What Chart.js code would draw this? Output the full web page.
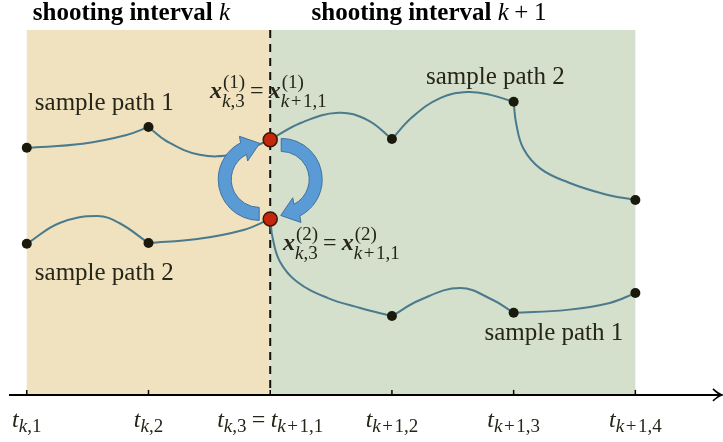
<!DOCTYPE html>
<html>
<head>
<meta charset="utf-8">
<script src="https://cdn.jsdelivr.net/npm/chart.js@4.4.0/dist/chart.umd.min.js"></script>
<style>
  html, body { margin: 0; padding: 0; background: #fff; }
  #wrap { width: 723px; height: 442px; }
</style>
</head>
<body>
<div id="wrap"><canvas id="diagram" width="723" height="442"></canvas></div>
<script>
// time grid (t_{k,1} ... t_{k+1,4}), one grid step = 10 units
const tTicks = [0, 10, 20, 30, 40, 50];
const tickLabels = ['t_{k,1}', 't_{k,2}', 't_{k,3}=t_{k+1,1}', 't_{k+1,2}', 't_{k+1,3}', 't_{k+1,4}'];
const junctionTime = 20;

// shooting interval k
const kPath1a = [[0, 67.7], [4.6, 68.8], [8.2, 71.2], [10, 73.4]];
const kPath1b = [[10, 73.4], [11.5, 69.5], [14.2, 65.8], [17, 66.0], [20, 69.9]];
const kPath2a = [[0, 41.4], [2.7, 47.1], [5.8, 49.0], [7.6, 47.1], [10, 41.6]];
const kPath2b = [[10, 41.6], [14, 42.7], [17.8, 45.2], [20, 48.2]];

// shooting interval k+1
const k1PathUa = [[20, 69.9], [22.5, 74.5], [25.6, 77.3], [28.0, 75.3], [30, 70.1]];
const k1PathUb = [[30, 70.1], [31.7, 76.2], [34.0, 81.4], [36.2, 83.0], [38.1, 82.2], [40, 80.3]];
const k1PathUc = [[40, 80.3], [40.2, 74.5], [40.8, 67.5], [42.2, 62.0], [44.5, 58.2], [47.5, 55.0], [50, 53.4]];
const k1PathLa = [[20, 48.2], [20.2, 43.0], [20.8, 36.5], [22.2, 31.0], [24.7, 26.6], [27.4, 23.8], [30, 21.6]];
const k1PathLb = [[30, 21.6], [32.3, 26.0], [35.6, 29.3], [38.3, 26.0], [40, 22.5]];
const k1PathLc = [[40, 22.5], [44.4, 23.3], [47.9, 25.2], [50, 27.9]];

const segments = [kPath1a, kPath1b, kPath2a, kPath2b, k1PathUa, k1PathUb, k1PathUc, k1PathLa, k1PathLb, k1PathLc];

const FAMILY = '"Liberation Serif", "Times New Roman", serif';
const TEXT = '#25251a';

const toXY = arr => arr.map(([x, y]) => ({ x, y }));

// grid nodes = segment end points, junction nodes drawn red
const nodeMap = new Map();
segments.forEach(seg => {
    [seg[0], seg[seg.length - 1]].forEach(p => nodeMap.set(p.join(','), p));
});
const allNodes = [...nodeMap.values()];
const junctions = allNodes.filter(p => p[0] === junctionTime);
const gridNodes = allNodes.filter(p => p[0] !== junctionTime);

// tiny math typesetter: letters italic, '*' marks bold next char, _{..} ^{..}
function parseMath(s) {
    const items = [];
    let i = 0;
    while (i < s.length) {
        const c = s[i];
        if (c === '_' || c === '^') {
            const close = s.indexOf('}', i + 2);
            const grp = s.slice(i + 2, close);
            const last = items[items.length - 1];
            if (c === '_') last.sub = grp; else last.sup = grp;
            i = close + 1;
        } else if (c === '*') {
            items.push({ ch: s[i + 1], bold: true });
            i += 2;
        } else if (c === ' ') {
            i++;
        } else {
            items.push({ ch: c });
            i++;
        }
    }
    return items;
}

function fontFor(ch, size, bold) {
    const italic = /[a-zA-Z]/.test(ch);
    return (italic ? 'italic ' : '') + (bold ? 'bold ' : '') + size + 'px ' + FAMILY;
}

function runWidth(ctx, str, size, draw, x, y) {
    let w = 0;
    for (const ch of str) {
        ctx.font = fontFor(ch, size, false);
        const pad = ch === '+' ? 1.5 : 0;
        w += pad;
        if (draw) ctx.fillText(ch, x + w, y);
        w += ctx.measureText(ch).width + pad;
    }
    return w;
}

function layoutMath(ctx, s, size, x, y, draw) {
    const items = parseMath(s);
    const script = Math.round(size * 0.78);
    let w = 0;
    for (const it of items) {
        if (it.ch === '=' || it.ch === '+') {
            const gap = size * 0.22;
            w += gap;
            ctx.font = size + 'px ' + FAMILY;
            if (draw) ctx.fillText(it.ch, x + w, y);
            w += ctx.measureText(it.ch).width + gap;
            continue;
        }
        ctx.font = fontFor(it.ch, size, it.bold);
        if (draw) ctx.fillText(it.ch, x + w, y);
        w += ctx.measureText(it.ch).width;
        let sw = 0;
        if (it.sup) sw = Math.max(sw, runWidth(ctx, it.sup, script, draw, x + w + 1, y - size * 0.42));
        if (it.sub) sw = Math.max(sw, runWidth(ctx, it.sub, script, draw, x + w, y + (it.sup ? size * 0.37 : size * 0.21)));
        w += sw;
    }
    return w;
}

function drawMath(ctx, s, size, x, y, align) {
    const w = layoutMath(ctx, s, size, 0, 0, false);
    const x0 = align === 'center' ? x - w / 2 : x;
    layoutMath(ctx, s, size, x0, y, true);
}

// circular arrow around (cx, cy); local shape is rotated for the left one
function drawCircArrow(ctx, cx, cy, halfGap, rot) {
    const ox = 11, rOut = 41, rIn = 28, rMid = (rOut + rIn) / 2;
    const a0 = -Math.PI / 2, a1 = 63 * Math.PI / 180;
    ctx.save();
    ctx.translate(cx, cy);
    ctx.rotate(rot);
    const px = ox + rMid * Math.cos(a1), py = rMid * Math.sin(a1);
    let dx = 0 - px, dy = halfGap - py;
    const len = Math.hypot(dx, dy);
    dx /= len; dy /= len;
    const nx = -dy, ny = dx;
    ctx.beginPath();
    ctx.ellipse(ox, 0, rOut, rOut, 0, a0, a1, false);
    ctx.lineTo(px - 13 * nx, py - 13 * ny);
    ctx.lineTo(px + 17 * dx, py + 17 * dy);
    ctx.lineTo(px + 13 * nx, py + 13 * ny);
    ctx.lineTo(ox + rIn * Math.cos(a1), rIn * Math.sin(a1));
    ctx.ellipse(ox, 0, rIn, rIn, 0, a1, a0, true);
    ctx.closePath();
    ctx.fillStyle = '#5b9bd5';
    ctx.fill();
    ctx.strokeStyle = '#41719c';
    ctx.lineWidth = 1;
    ctx.stroke();
    ctx.restore();
}

const diagramPlugin = {
    id: 'diagram',
    beforeDatasetsDraw(chart) {
        const { ctx, scales: { x, y } } = chart;
        const x0 = x.getPixelForValue(tTicks[0]);
        const xj = x.getPixelForValue(junctionTime);
        const x1 = x.getPixelForValue(tTicks[tTicks.length - 1]);
        const yTop = y.getPixelForValue(100);
        const yAxis = y.getPixelForValue(0);
        ctx.save();
        ctx.fillStyle = '#f0e2bf';
        ctx.fillRect(x0, yTop, xj - x0, yAxis - yTop);
        ctx.fillStyle = '#d4dfcc';
        ctx.fillRect(xj, yTop, x1 - xj, yAxis - yTop);

        // boundary between the intervals
        ctx.strokeStyle = '#111';
        ctx.lineWidth = 2;
        ctx.setLineDash([8, 6]);
        ctx.beginPath();
        ctx.moveTo(xj, yTop);
        ctx.lineTo(xj, yAxis);
        ctx.stroke();
        ctx.setLineDash([]);

        // time axis with arrow
        ctx.strokeStyle = '#000';
        ctx.lineWidth = 2;
        ctx.beginPath();
        ctx.moveTo(9, yAxis);
        ctx.lineTo(721, yAxis);
        ctx.stroke();
        ctx.lineWidth = 1.6;
        ctx.beginPath();
        ctx.moveTo(713, yAxis - 6);
        ctx.quadraticCurveTo(718, yAxis - 1, 722, yAxis);
        ctx.quadraticCurveTo(718, yAxis + 1, 713, yAxis + 6);
        ctx.stroke();
        ctx.lineWidth = 1.5;
        tTicks.forEach(t => {
            const px = x.getPixelForValue(t);
            ctx.beginPath();
            ctx.moveTo(px, yAxis);
            ctx.lineTo(px, yAxis - 5);
            ctx.stroke();
        });
        ctx.restore();
    },
    beforeDatasetDraw(chart, args) {
        if (args.index !== 0) return;
        const { ctx, scales: { x, y } } = chart;
        const cx = x.getPixelForValue(junctionTime);
        const yA = y.getPixelForValue(Math.max(...junctions.map(p => p[1])));
        const yB = y.getPixelForValue(Math.min(...junctions.map(p => p[1])));
        const cy = (yA + yB) / 2;
        const half = (yB - yA) / 2;
        drawCircArrow(ctx, cx, cy, half, 0);
        drawCircArrow(ctx, cx, cy, half, Math.PI);
    },
    afterDraw(chart) {
        const { ctx, scales: { x, y } } = chart;
        ctx.save();
        ctx.textBaseline = 'alphabetic';

        // titles
        ctx.fillStyle = '#000';
        ctx.font = 'bold 25px ' + FAMILY;
        const titleY = y.getPixelForValue(102.7);
        let tx = x.getPixelForValue(0.5);
        ctx.fillText('shooting interval ', tx, titleY);
        tx += ctx.measureText('shooting interval ').width;
        drawMath(ctx, 'k', 25, tx, titleY, 'left');
        tx = x.getPixelForValue(23.4);
        ctx.font = 'bold 25px ' + FAMILY;
        ctx.fillText('shooting interval ', tx, titleY);
        tx += ctx.measureText('shooting interval ').width;
        drawMath(ctx, 'k+1', 25, tx, titleY, 'left');

        // sample path labels
        ctx.fillStyle = TEXT;
        ctx.font = '25px ' + FAMILY;
        ctx.textAlign = 'left';
        ctx.fillText('sample path 1', x.getPixelForValue(0.66), y.getPixelForValue(78.1));
        ctx.fillText('sample path 2', x.getPixelForValue(0.66), y.getPixelForValue(31.5));
        ctx.fillText('sample path 1', x.getPixelForValue(37.6), y.getPixelForValue(15.1));
        ctx.textAlign = 'center';
        ctx.fillText('sample path 2', x.getPixelForValue(38.5), y.getPixelForValue(85.2));
        ctx.textAlign = 'left';

        // junction labels
        drawMath(ctx, '*x^{(1)}_{k,3}=*x^{(1)}_{k+1,1}', 24, x.getPixelForValue(15.05), y.getPixelForValue(81.4), 'left');
        drawMath(ctx, '*x^{(2)}_{k,3}=*x^{(2)}_{k+1,1}', 24, x.getPixelForValue(21.05), y.getPixelForValue(39.7), 'left');

        // time tick labels
        const labelY = y.getPixelForValue(-8.8);
        tTicks.forEach((t, i) => {
            drawMath(ctx, tickLabels[i], 24, x.getPixelForValue(t), labelY, 'center');
        });
        ctx.restore();
    }
};

const pathDatasets = segments.map((seg, i) => ({
    label: 'segment ' + (i + 1),
    data: toXY(seg),
    showLine: true,
    borderColor: '#4a7a8c',
    borderWidth: 2,
    tension: 0.4,
    pointRadius: 0,
    fill: false
}));

const chart = new Chart(document.getElementById('diagram'), {
    type: 'scatter',
    data: {
        datasets: [
            {
                label: 'junction',
                data: toXY(junctions),
                pointRadius: 7,
                pointBackgroundColor: '#c4270d',
                pointBorderColor: '#3a1805',
                pointBorderWidth: 1.5,
                showLine: false
            },
            {
                label: 'grid nodes',
                data: toXY(gridNodes),
                pointRadius: 5,
                pointBackgroundColor: '#1a1a0c',
                pointBorderColor: '#1a1a0c',
                pointBorderWidth: 0,
                showLine: false
            },
            ...pathDatasets
        ]
    },
    options: {
        responsive: false,
        animation: false,
        events: [],
        layout: { padding: 0, autoPadding: false },
        plugins: {
            legend: { display: false },
            tooltip: { enabled: false }
        },
        scales: {
            x: { type: 'linear', display: false, min: -2.2, max: 57.2 },
            y: { type: 'linear', display: false, min: -12.9, max: 108.2 }
        }
    },
    plugins: [diagramPlugin]
});
</script>
</body>
</html>
